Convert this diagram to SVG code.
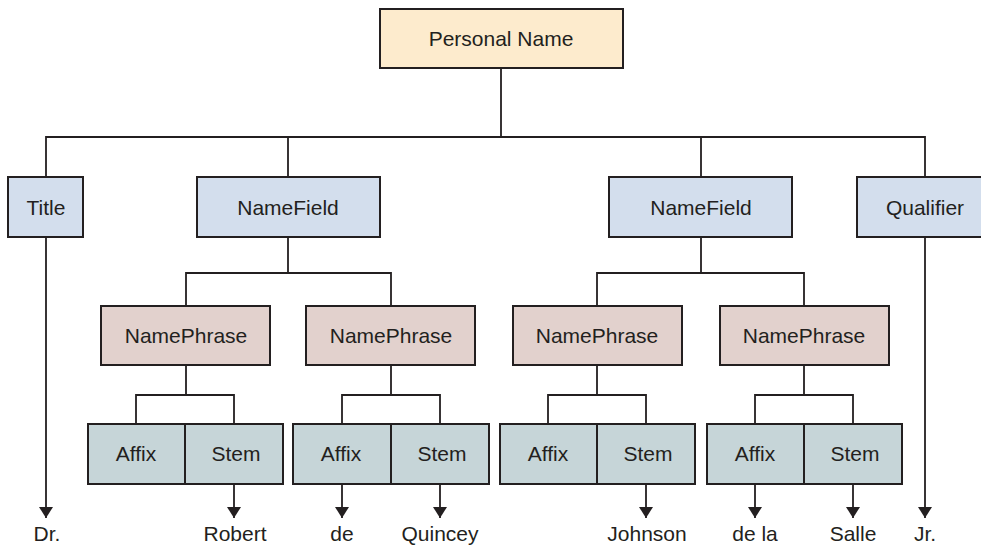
<svg xmlns="http://www.w3.org/2000/svg" width="981" height="546" viewBox="0 0 981 546">
<defs>
<style>
.box{stroke:#231f20;stroke-width:2}
.pn{fill:#fdebcd}
.nf{fill:#d3deed}
.np{fill:#e2d1cd}
.as{fill:#c6d5d8}
text{font-family:"Liberation Sans",Arial,sans-serif;font-size:21px;fill:#231f20;text-anchor:middle}
.ln{fill:none;stroke:#231f20;stroke-width:1.8}
</style>
<marker id="ah" viewBox="0 0 11 14" refX="11" refY="7" markerWidth="11" markerHeight="14" markerUnits="userSpaceOnUse" orient="auto">
<path d="M0,0 L11,7 L0,14 Z" fill="#231f20"/>
</marker>
</defs>
<rect width="981" height="546" fill="#ffffff"/>
<g id="connectors">
<path class="ln" d="M501,68 V137 M46,177 V137 H925 V177 M288,137 V177 M701,137 V177"/>
<path class="ln" d="M288,237 V273 M186,306 V273 H391 V306"/>
<path class="ln" d="M701,237 V273 M597,306 V273 H804 V306"/>
<path class="ln" d="M186,365 V395 M136,424 V395 H234 V424"/>
<path class="ln" d="M391,365 V395 M342,424 V395 H440 V424"/>
<path class="ln" d="M597,365 V395 M548,424 V395 H646 V424"/>
<path class="ln" d="M804,365 V395 M755,424 V395 H853 V424"/>
<g marker-end="url(#ah)">
<path class="ln" d="M46,237 V518"/>
<path class="ln" d="M925,237 V518"/>
<path class="ln" d="M234,484 V518"/>
<path class="ln" d="M342,484 V518"/>
<path class="ln" d="M440,484 V518"/>
<path class="ln" d="M646,484 V518"/>
<path class="ln" d="M755,484 V518"/>
<path class="ln" d="M853,484 V518"/>
</g>
</g>
<g id="personal-name"><rect class="box pn" x="380" y="9" width="243" height="59"/><text x="501" y="46">Personal Name</text></g>
<g id="title"><rect class="box nf" x="8" y="177" width="75" height="60"/><text x="46" y="215">Title</text></g>
<g id="namefield-1"><rect class="box nf" x="197" y="177" width="183" height="60"/><text x="288" y="215">NameField</text></g>
<g id="namefield-2"><rect class="box nf" x="609" y="177" width="183" height="60"/><text x="701" y="215">NameField</text></g>
<g id="qualifier"><rect class="box nf" x="857" y="177" width="140" height="60"/><text x="925" y="215">Qualifier</text></g>
<g id="namephrase-1"><rect class="box np" x="101" y="306" width="169" height="59"/><text x="186" y="343">NamePhrase</text></g>
<g id="namephrase-2"><rect class="box np" x="306" y="306" width="169" height="59"/><text x="391" y="343">NamePhrase</text></g>
<g id="namephrase-3"><rect class="box np" x="513" y="306" width="169" height="59"/><text x="597" y="343">NamePhrase</text></g>
<g id="namephrase-4"><rect class="box np" x="720" y="306" width="169" height="59"/><text x="804" y="343">NamePhrase</text></g>
<g id="affix-1"><rect class="box as" x="88" y="424" width="97" height="60"/><text x="136" y="461">Affix</text></g>
<g id="stem-1"><rect class="box as" x="185" y="424" width="98" height="60"/><text x="236" y="461">Stem</text></g>
<g id="affix-2"><rect class="box as" x="293" y="424" width="98" height="60"/><text x="341" y="461">Affix</text></g>
<g id="stem-2"><rect class="box as" x="391" y="424" width="98" height="60"/><text x="442" y="461">Stem</text></g>
<g id="affix-3"><rect class="box as" x="500" y="424" width="97" height="60"/><text x="548" y="461">Affix</text></g>
<g id="stem-3"><rect class="box as" x="597" y="424" width="98" height="60"/><text x="648" y="461">Stem</text></g>
<g id="affix-4"><rect class="box as" x="707" y="424" width="97" height="60"/><text x="755" y="461">Affix</text></g>
<g id="stem-4"><rect class="box as" x="804" y="424" width="98" height="60"/><text x="855" y="461">Stem</text></g>
<g id="values">
<text x="47" y="541">Dr.</text>
<text x="235" y="541">Robert</text>
<text x="342" y="541">de</text>
<text x="440" y="541">Quincey</text>
<text x="647" y="541">Johnson</text>
<text x="755" y="541">de la</text>
<text x="853" y="541">Salle</text>
<text x="925" y="541">Jr.</text>
</g>
</svg>
